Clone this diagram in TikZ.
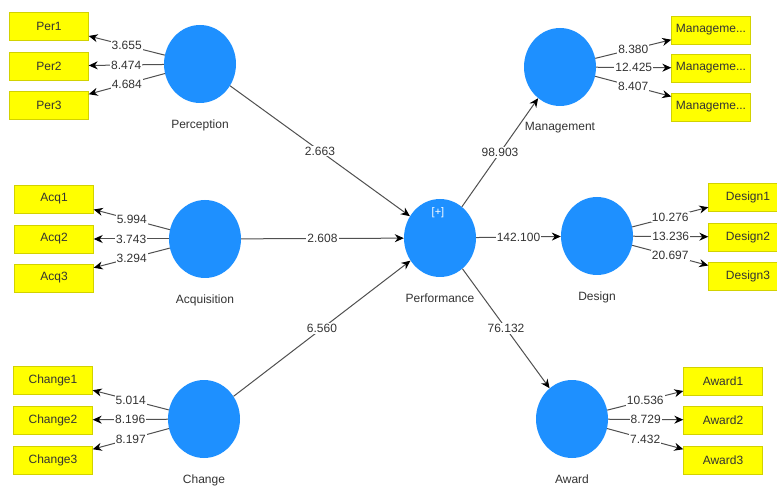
\documentclass[tikz,border=0pt]{standalone}
\usepackage{fontspec}
\setmainfont{Liberation Sans}
\usepackage{xcolor}
\definecolor{latent}{HTML}{1E90FF}
\definecolor{itemfill}{HTML}{FFFF00}
\definecolor{itemline}{HTML}{D2D200}
\definecolor{linegray}{HTML}{505050}
\definecolor{ink}{HTML}{333333}
\usepackage{tikz}
\usetikzlibrary{arrows.meta, shapes.geometric, positioning}

\begin{document}
\begin{tikzpicture}[>={Stealth[length=9pt, width=8pt, color=black]}, x=1pt, y=-1pt,
  construct/.style={ellipse, fill=latent, minimum width=72pt, minimum height=78pt, inner sep=0pt},
  cname/.style={font=\fontsize{12}{14}\selectfont, text=ink},
  item/.style={fill=itemfill, draw=itemline, minimum width=79pt, minimum height=28pt,
               font=\fontsize{12}{14}\selectfont, text=ink},
  coef/.style={fill=white, inner sep=1pt, font=\fontsize{12}{14}\selectfont, text=ink},
  path/.style={->, draw=linegray, line width=1pt}]

  \useasboundingbox (0,0) rectangle (777,489);
  \fill[white] (0,0) rectangle (777,489);
  \clip (0,0) rectangle (777,489);

  % constructs
  \node[construct] (per) at (200,64) {};
  \node[construct] (acq) at (205,239) {};
  \node[construct] (chg) at (204,419) {};
  \node[construct] (perf) at (440,238) {};
  \node[construct] (mgt) at (560,67) {};
  \node[construct] (des) at (597,236) {};
  \node[construct] (awd) at (572,419) {};
  \node[font=\fontsize{11}{13}\selectfont, text=white] (perfmark) at (438,213) {[+]};

  \node[cname, below=13pt of per] (perT) {Perception};
  \node[cname, below=13pt of acq] (acqT) {Acquisition};
  \node[cname, below=13pt of chg] (chgT) {Change};
  \node[cname, below=13pt of perf] (perfT) {Performance};
  \node[cname, below=13pt of mgt] (mgtT) {Management};
  \node[cname, below=13pt of des] (desT) {Design};
  \node[cname, below=13pt of awd] (awdT) {Award};

  % indicators
  \node[item] (per1) at (49,26) {Per1};
  \node[item] (per2) at (49,66) {Per2};
  \node[item] (per3) at (49,105) {Per3};
  \node[item] (acq1) at (54,199) {Acq1};
  \node[item] (acq2) at (54,239) {Acq2};
  \node[item] (acq3) at (54,278) {Acq3};
  \node[item] (chg1) at (53,380) {Change1};
  \node[item] (chg2) at (53,420) {Change2};
  \node[item] (chg3) at (53,460) {Change3};
  \node[item] (mgt1) at (711,30) {Manageme...};
  \node[item] (mgt2) at (711,68) {Manageme...};
  \node[item] (mgt3) at (711,107) {Manageme...};
  \node[item] (des1) at (748,197) {Design1};
  \node[item] (des2) at (748,237) {Design2};
  \node[item] (des3) at (748,276) {Design3};
  \node[item] (awd1) at (723,381) {Award1};
  \node[item] (awd2) at (723,420) {Award2};
  \node[item] (awd3) at (723,460) {Award3};

  % inner model
  \draw[path] (per) -- node[coef] {2.663} (perf);
  \draw[path] (acq) -- node[coef] {2.608} (perf);
  \draw[path] (chg) -- node[coef] {6.560} (perf);
  \draw[path] (perf) -- node[coef] {98.903} (mgt);
  \draw[path] (perf) -- node[coef] {142.100} (des);
  \draw[path] (perf) -- node[coef] {76.132} (awd);

  % outer model
  \draw[path] (per) -- node[coef] {3.655} (per1);
  \draw[path] (per) -- node[coef] {8.474} (per2);
  \draw[path] (per) -- node[coef] {4.684} (per3);
  \draw[path] (acq) -- node[coef] {5.994} (acq1);
  \draw[path] (acq) -- node[coef] {3.743} (acq2);
  \draw[path] (acq) -- node[coef] {3.294} (acq3);
  \draw[path] (chg) -- node[coef] {5.014} (chg1);
  \draw[path] (chg) -- node[coef] {8.196} (chg2);
  \draw[path] (chg) -- node[coef] {8.197} (chg3);
  \draw[path] (mgt) -- node[coef] {8.380} (mgt1);
  \draw[path] (mgt) -- node[coef] {12.425} (mgt2);
  \draw[path] (mgt) -- node[coef] {8.407} (mgt3);
  \draw[path] (des) -- node[coef] {10.276} (des1);
  \draw[path] (des) -- node[coef] {13.236} (des2);
  \draw[path] (des) -- node[coef] {20.697} (des3);
  \draw[path] (awd) -- node[coef] {10.536} (awd1);
  \draw[path] (awd) -- node[coef] {8.729} (awd2);
  \draw[path] (awd) -- node[coef] {7.432} (awd3);

\end{tikzpicture}
\end{document}
